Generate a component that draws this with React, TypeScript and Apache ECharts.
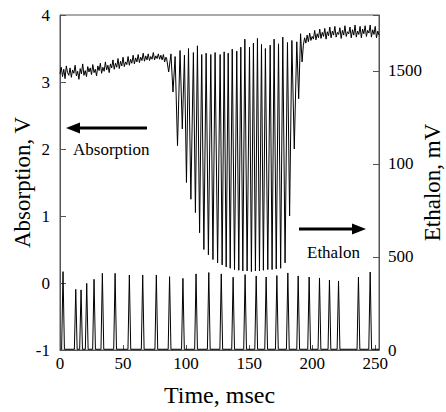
import React, { useEffect, useRef } from "react";
import * as echarts from "echarts";

const FONT = "Liberation Serif";

// Axis ticks
const xTicks = [0, 50, 100, 150, 200, 250];
const leftTicks = [-1, 0, 1, 2, 3, 4];
const rightTickLabels: Record<number, string> = { 0: "0", 500: "500", 1000: "100", 1500: "1500" };

// Absorption (V): noisy baseline, t = 0..84 msec (1 msec step)
const absorptionBase = [
  3.12, 3.22, 3.08, 3.19, 3.05, 3.24, 3.14, 3.10, 3.21, 3.07,
  3.18, 3.13, 3.25, 3.09, 3.16, 3.04, 3.20, 3.12, 3.27, 3.10,
  3.17, 3.08, 3.23, 3.15, 3.21, 3.11, 3.26, 3.14, 3.19, 3.09,
  3.24, 3.17, 3.28, 3.13, 3.22, 3.16, 3.30, 3.18, 3.25, 3.14,
  3.27, 3.21, 3.33, 3.19, 3.28, 3.22, 3.35, 3.20, 3.31, 3.24,
  3.37, 3.23, 3.30, 3.26, 3.38, 3.25, 3.34, 3.28, 3.40, 3.27,
  3.36, 3.30, 3.41, 3.29, 3.37, 3.32, 3.43, 3.31, 3.39, 3.33,
  3.42, 3.32, 3.38, 3.34, 3.44, 3.33, 3.39, 3.35, 3.42, 3.34,
  3.40, 3.33, 3.41, 3.30, 3.37,
];

// Absorption fringes: alternating peak / trough (msec, V)
const fringeTimes = [
  84.5, 86.2, 88.0, 89.6, 91.3, 93.2, 95.2, 97.0, 98.7, 100.3,
  101.9, 103.8, 105.8, 107.4, 109.0, 110.7, 112.4, 114.1, 115.9, 117.7,
  119.6, 121.3, 123.0, 125.0, 127.0, 128.6, 130.2, 131.8, 133.4, 135.0,
  136.6, 138.4, 140.2, 141.8, 143.4, 145.0, 146.6, 148.4, 150.3, 151.8,
  153.4, 155.0, 156.6, 158.2, 159.8, 161.3, 162.9, 164.8, 166.7, 168.2,
  169.8, 171.5, 173.3, 175.0, 176.7, 178.5, 180.4, 182.1, 183.9, 185.8,
  187.8, 189.3, 190.8, 192.0,
];
const fringeValues = [
  3.36, 3.15, 3.42, 2.85, 3.38, 2.05, 3.47, 2.30, 3.40, 1.50,
  3.50, 1.25, 3.44, 1.05, 3.54, 0.75, 3.41, 0.50, 3.43, 0.42,
  3.41, 0.35, 3.44, 0.30, 3.41, 0.27, 3.45, 0.24, 3.43, 0.22,
  3.49, 0.20, 3.46, 0.19, 3.52, 0.18, 3.64, 0.18, 3.52, 0.17,
  3.58, 0.18, 3.65, 0.18, 3.56, 0.19, 3.50, 0.20, 3.55, 0.20,
  3.64, 0.21, 3.57, 0.22, 3.67, 0.30, 3.59, 1.00, 3.62, 2.00,
  3.60, 2.75, 3.72, 3.30,
];

// Absorption tail, t = 193..253 msec (1 msec step)
const tailStart = 193;
const absorptionTail = [
  3.55, 3.66, 3.58, 3.70, 3.60, 3.73, 3.62, 3.68, 3.64, 3.77,
  3.63, 3.72, 3.66, 3.79, 3.65, 3.74, 3.68, 3.80, 3.64, 3.75,
  3.69, 3.82, 3.66, 3.76, 3.70, 3.83, 3.67, 3.74, 3.71, 3.81,
  3.65, 3.77, 3.70, 3.84, 3.68, 3.75, 3.72, 3.82, 3.66, 3.78,
  3.70, 3.85, 3.67, 3.76, 3.71, 3.83, 3.66, 3.79, 3.72, 3.84,
  3.68, 3.77, 3.73, 3.85, 3.67, 3.78, 3.71, 3.83, 3.66, 3.76,
  3.70,
];

// Ethalon spikes (msec, mV)
const etalonPeakTimes = [
  2.4, 12.5, 16.7, 21.2, 27.0, 33.6, 43.7, 55.0, 65.6, 76.4,
  86.9, 97.5, 107.9, 118.0, 127.9, 137.3, 146.8, 155.6, 163.5, 172.0,
  180.7, 188.9, 197.6, 205.8, 213.7, 220.9, 236.7, 246.0,
];
const etalonPeakHeights = [
  421, 326, 323, 358, 380, 412, 412, 403, 403, 403,
  394, 385, 409, 416, 409, 391, 405, 398, 392, 400,
  414, 398, 392, 387, 376, 371, 392, 419,
];
const etalonBase = 4;
const spikeHalfWidth = 1.1;

function buildAbsorption(): number[][] {
  const pts: number[][] = [];
  absorptionBase.forEach((v, i) => pts.push([i, v]));
  fringeTimes.forEach((t, i) => pts.push([t, fringeValues[i]]));
  absorptionTail.forEach((v, i) => pts.push([tailStart + i, v]));
  return pts;
}

function buildEtalon(): number[][] {
  const pts: number[][] = [[0.5, etalonBase]];
  etalonPeakTimes.forEach((t, i) => {
    pts.push([t - spikeHalfWidth, etalonBase]);
    pts.push([t, etalonPeakHeights[i]]);
    pts.push([t + spikeHalfWidth, etalonBase]);
  });
  pts.push([253, etalonBase]);
  return pts;
}

export default function App() {
  const ref = useRef<HTMLDivElement>(null);
  useEffect(() => {
    if (!ref.current) return;
    const chart = echarts.init(ref.current, undefined, { renderer: "svg" });
    const axisColor = "#555";
    const labelStyle = { fontFamily: FONT, fontSize: 17, color: "#000" };
    const nameStyle = { fontFamily: FONT, fontSize: 23, color: "#000" };
    chart.setOption({
      animation: false,
      textStyle: { fontFamily: FONT },
      grid: {
        left: 60, right: 67, top: 15, bottom: 62,
        outerBoundsMode: "none",
        containLabel: false,
        show: true, borderColor: axisColor, borderWidth: 1,
      },
      xAxis: {
        type: "value", min: 0, max: 253, interval: 50,
        name: "Time, msec", nameLocation: "middle", nameGap: 33,
        nameMoveOverlap: false,
        nameTextStyle: { ...nameStyle, fontSize: 24 },
        axisLine: { show: true, onZero: false, lineStyle: { color: axisColor } },
        axisTick: { show: true, inside: true, length: 5, lineStyle: { color: axisColor } },
        axisLabel: {
          ...labelStyle, margin: 5,
          formatter: (v: number) => (xTicks.includes(v) ? String(v) : ""),
        },
        splitLine: { show: false },
      },
      yAxis: [
        {
          type: "value", min: -1, max: 4, interval: 1, position: "left",
          name: "Absorption, V", nameLocation: "middle", nameGap: 26,
          nameMoveOverlap: false,
          nameTextStyle: nameStyle,
          axisLine: { show: true, onZero: false, lineStyle: { color: axisColor } },
          axisTick: { show: true, inside: true, length: 6, lineStyle: { color: axisColor } },
          axisLabel: {
            ...labelStyle, margin: 10,
            formatter: (v: number) => (leftTicks.includes(v) ? String(v) : ""),
          },
          splitLine: { show: false },
        },
        {
          type: "value", min: 0, max: 1800, interval: 500, position: "right",
          name: "Ethalon, mV", nameLocation: "middle", nameGap: 42,
          nameMoveOverlap: false,
          nameTextStyle: nameStyle,
          axisLine: { show: true, onZero: false, lineStyle: { color: axisColor } },
          axisTick: { show: true, inside: true, length: 6, lineStyle: { color: axisColor } },
          axisLabel: {
            ...labelStyle, margin: 9,
            formatter: (v: number) => rightTickLabels[v] ?? "",
          },
          splitLine: { show: false },
        },
      ],
      series: [
        {
          type: "line", yAxisIndex: 0, data: buildAbsorption(),
          symbol: "none", showSymbol: false,
          lineStyle: { color: "#000", width: 1 },
        },
        {
          type: "line", yAxisIndex: 1, data: buildEtalon(),
          symbol: "none", showSymbol: false,
          lineStyle: { color: "#000", width: 1 },
        },
      ],
      graphic: [
        { type: "line", shape: { x1: 77, y1: 128, x2: 147, y2: 128 }, style: { stroke: "#000", lineWidth: 3 } },
        { type: "polygon", shape: { points: [[66, 128], [80, 122.5], [80, 133.5]] }, style: { fill: "#000" } },
        { type: "text", left: 73, top: 141, style: { text: "Absorption", fontFamily: FONT, fontSize: 17, fill: "#000" } },
        { type: "line", shape: { x1: 299, y1: 229, x2: 355, y2: 229 }, style: { stroke: "#000", lineWidth: 3 } },
        { type: "polygon", shape: { points: [[366, 229], [352, 223.5], [352, 234.5]] }, style: { fill: "#000" } },
        { type: "text", left: 307, top: 244, style: { text: "Ethalon", fontFamily: FONT, fontSize: 17, fill: "#000" } },
      ],
    });
    return () => chart.dispose();
  }, []);
  return (
    <div
      ref={ref}
      style={{ position: "fixed", left: 0, top: 0, width: 446, height: 412, background: "#fff" }}
    />
  );
}
